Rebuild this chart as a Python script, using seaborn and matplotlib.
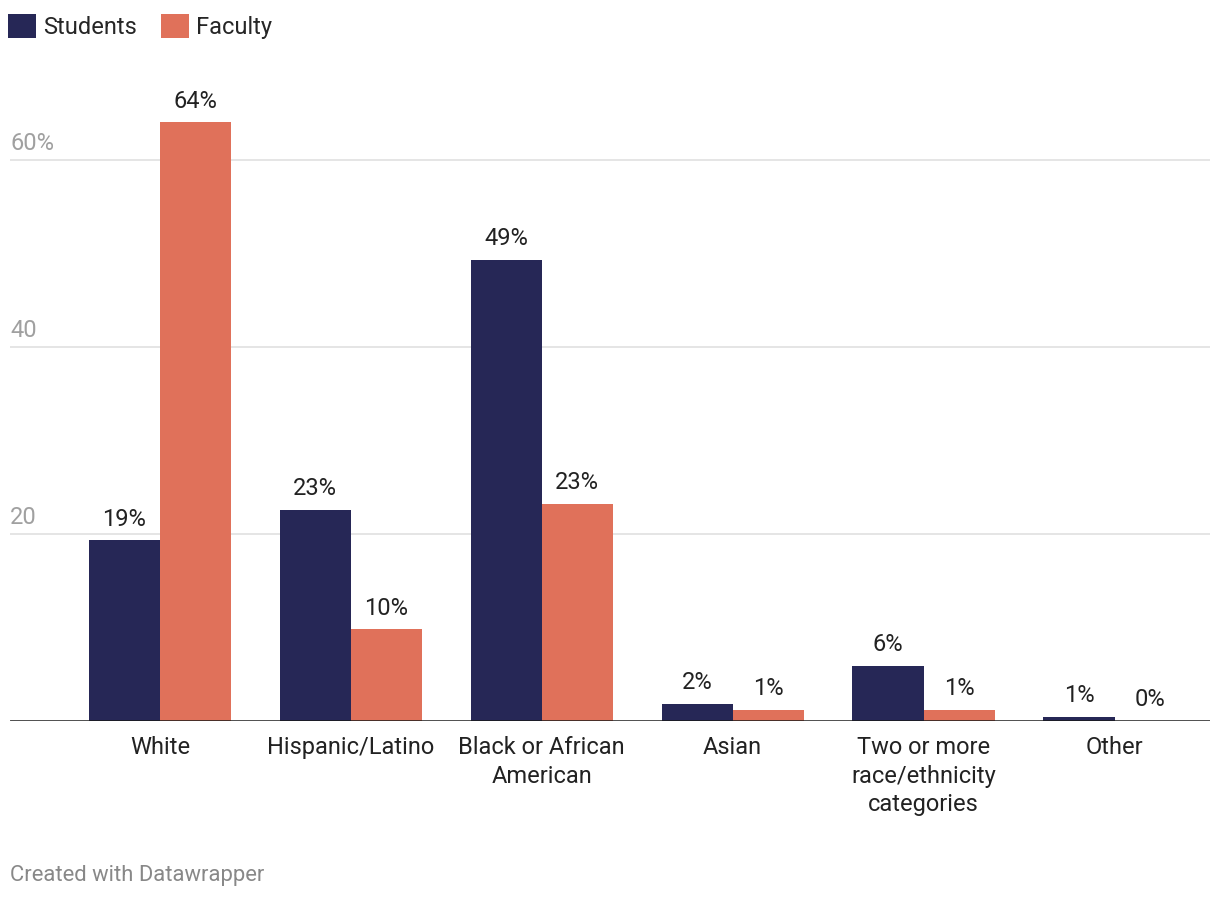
import pandas as pd
import seaborn as sns
import matplotlib.pyplot as plt

categories = ["White", "Hispanic/Latino", "Black or African\nAmerican", "Asian",
              "Two or more\nrace/ethnicity\ncategories", "Other"]
students = [19.3, 22.6, 49.3, 1.8, 5.9, 0.45]
faculty = [64.0, 9.8, 23.2, 1.2, 1.2, 0.0]
student_labels = ["19%", "23%", "49%", "2%", "6%", "1%"]
faculty_labels = ["64%", "10%", "23%", "1%", "1%", "0%"]
yticks = [20, 40, 60]
ytick_labels = ["20", "40", "60%"]

df = pd.DataFrame({
    "Category": categories * 2,
    "Value": students + faculty,
    "Group": ["Students"] * len(categories) + ["Faculty"] * len(categories),
})

sns.set_theme(style="white")
plt.rcParams['font.family'] = ['Roboto', 'DejaVu Sans']

fig = plt.figure(figsize=(12.2, 9), dpi=100)
ax = fig.add_axes([10 / 1220, 1 - 721 / 900, 1200 / 1220, (721 - 85) / 900])

sns.barplot(data=df, x="Category", y="Value", hue="Group",
            palette={"Students": "#262756", "Faculty": "#E0715A"},
            width=0.745, gap=0, saturation=1, linewidth=0, ax=ax, legend=True)

ax.set_xlim(-0.785, 5.5)
ax.set_ylim(0, 68)

for y in yticks:
    ax.axhline(y, color="#e3e3e3", lw=1.3, zorder=0)
ax.axhline(0, color="#1a1a1a", lw=1.8, zorder=3)

ax.set_yticks([])
for y, lab in zip(yticks, ytick_labels):
    ax.text(0.0, y + 0.5, lab, transform=ax.get_yaxis_transform(),
            ha="left", va="bottom", fontsize=17, color="#a0a0a0")

ax.bar_label(ax.containers[0], labels=student_labels, padding=7,
             fontsize=17, color="#222222")
ax.bar_label(ax.containers[1], labels=faculty_labels, padding=7,
             fontsize=17, color="#222222")

ax.set_xlabel("")
ax.set_ylabel("")
ax.tick_params(axis="x", length=0, pad=11, labelsize=17, labelcolor="#222222")
for t in ax.get_xticklabels():
    t.set_linespacing(1.3)
for s in ax.spines.values():
    s.set_visible(False)

handles, labels = ax.get_legend_handles_labels()
ax.get_legend().remove()
fig.legend(handles, labels, loc="upper left", bbox_to_anchor=(8 / 1220, 1 - 14 / 900),
           ncol=2, frameon=False, fontsize=17, handlelength=1.18, handleheight=1.18,
           handletextpad=0.3, columnspacing=1.05, borderpad=0, borderaxespad=0)

fig.text(10 / 1220, 1 - 875 / 900, "Created with Datawrapper", ha="left", va="center",
         fontsize=15.8, color="#888888")

fig.savefig("out.png", dpi=100)
